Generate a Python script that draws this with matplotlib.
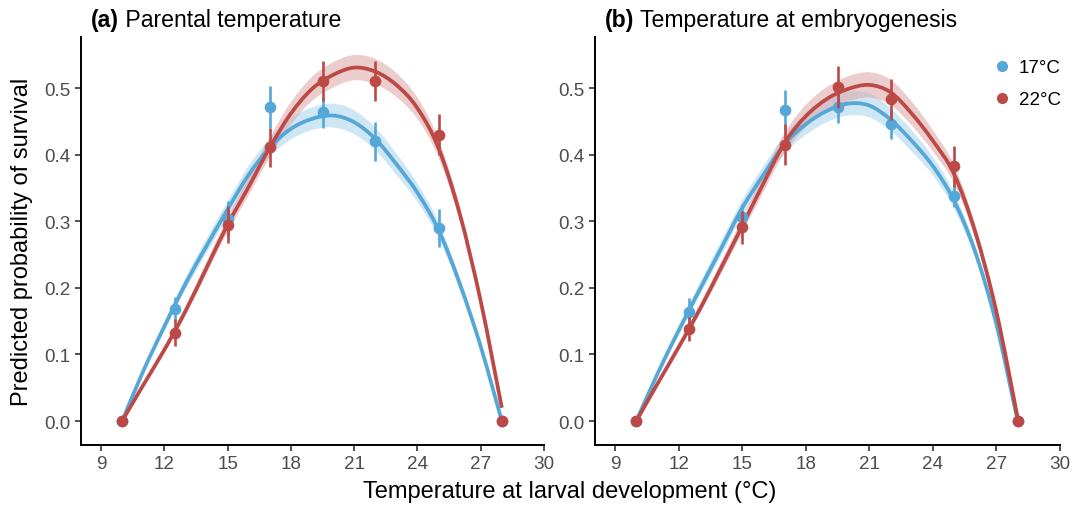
import numpy as np
import matplotlib
matplotlib.use("Agg")
import matplotlib.pyplot as plt
from matplotlib.path import Path
from matplotlib.patches import PathPatch
from matplotlib.lines import Line2D

# ---------------- data ----------------
temps_obs = [10, 12.5, 15, 17, 19.5, 22, 25, 28]

a_obs_17 = [0.0, 0.169, 0.303, 0.472, 0.464, 0.420, 0.290, 0.0]
a_err_17 = [0.0, 0.017, 0.027, 0.031, 0.023, 0.030, 0.028, 0.0]
a_obs_22 = [0.0, 0.133, 0.295, 0.411, 0.511, 0.511, 0.430, 0.0]
a_err_22 = [0.0, 0.020, 0.028, 0.029, 0.030, 0.030, 0.031, 0.0]

b_obs_17 = [0.0, 0.1635, 0.307, 0.467, 0.472, 0.446, 0.338, 0.0]
b_err_17 = [0.0, 0.021, 0.019, 0.030, 0.024, 0.023, 0.017, 0.0]
b_obs_22 = [0.0, 0.1385, 0.291, 0.415, 0.502, 0.4835, 0.3825, 0.0]
b_err_22 = [0.0, 0.018, 0.025, 0.031, 0.032, 0.031, 0.031, 0.0]

temps_fit = [10, 11, 12, 13, 14, 15, 16, 17, 18, 19, 20, 21, 22, 23, 24, 25, 26, 27, 28]
a_fit_17 = [0.0, 0.075, 0.142, 0.206, 0.263, 0.318, 0.370, 0.411, 0.439, 0.454, 0.459,
            0.449, 0.424, 0.386, 0.343, 0.287, 0.207, 0.112, 0.0]
a_fit_22 = [0.0, 0.054, 0.107, 0.165, 0.230, 0.295, 0.352, 0.411, 0.462, 0.499, 0.520,
            0.531, 0.525, 0.505, 0.470, 0.410, 0.312, 0.180, 0.020]
b_fit_17 = [0.0, 0.071, 0.136, 0.198, 0.259, 0.320, 0.370, 0.416, 0.446, 0.466, 0.477,
            0.474, 0.453, 0.421, 0.383, 0.331, 0.254, 0.145, 0.0]
b_fit_22 = [0.0, 0.056, 0.111, 0.168, 0.230, 0.293, 0.357, 0.418, 0.458, 0.484, 0.499,
            0.505, 0.494, 0.462, 0.421, 0.371, 0.284, 0.164, 0.005]

se_17 = [0.0, 0.004, 0.007, 0.009, 0.011, 0.012, 0.013, 0.014, 0.016, 0.017, 0.018,
         0.018, 0.017, 0.016, 0.014, 0.012, 0.009, 0.006, 0.002]
se_22 = [0.0, 0.003, 0.005, 0.007, 0.009, 0.011, 0.013, 0.015, 0.017, 0.018, 0.019,
         0.019, 0.019, 0.018, 0.016, 0.014, 0.011, 0.007, 0.003]

x_ticks = [9, 12, 15, 18, 21, 24, 27, 30]
y_ticks = [0.0, 0.1, 0.2, 0.3, 0.4, 0.5]
groups = ["17°C", "22°C"]
panel_tags = ["(a)", "(b)"]
panel_titles = ["Parental temperature", "Temperature at embryogenesis"]

# ---------------- style ----------------
BLUE = "#55A7D8"
RED = "#BC4946"
BLUE_BAND = "#A9D4EC"
RED_BAND = "#DDA5A5"
plt.rcParams["font.family"] = ["Liberation Sans", "DejaVu Sans"]


def bezier_codes(xs, ys):
    """Smooth path through the knots (rendered by matplotlib's Path)."""
    p = np.column_stack([xs, ys]).astype(float)
    n = len(p)
    verts = [p[0]]
    codes = [Path.MOVETO]
    for i in range(n - 1):
        p0 = p[i - 1] if i > 0 else p[i]
        p1 = p[i]
        p2 = p[i + 1]
        p3 = p[i + 2] if i + 2 < n else p[i + 1]
        c1 = p1 + (p2 - p0) / 6.0
        c2 = p2 - (p3 - p1) / 6.0
        verts += [c1, c2, p2]
        codes += [Path.CURVE4] * 3
    return verts, codes


def smooth_line(ax, xs, ys, color, lw, z):
    v, c = bezier_codes(xs, ys)
    ax.add_patch(PathPatch(Path(v, c), facecolor="none", edgecolor=color, lw=lw,
                           zorder=z, capstyle="butt"))


def smooth_band(ax, xs, lo, hi, color, alpha, z):
    vu, cu = bezier_codes(xs, hi)
    vl, cl = bezier_codes(xs[::-1], lo[::-1])
    cl = [Path.LINETO] + cl[1:]
    verts = vu + vl + [vu[0]]
    codes = cu + cl + [Path.CLOSEPOLY]
    ax.add_patch(PathPatch(Path(verts, codes), facecolor=color, edgecolor="none",
                           alpha=alpha, zorder=z))


W, H = 1072, 506
fig = plt.figure(figsize=(W / 100, H / 100), dpi=100)
ax_a = fig.add_axes([81 / W, 60 / H, 463 / W, 408 / H])
ax_b = fig.add_axes([595 / W, 60 / H, 465 / W, 408 / H])

panels = [
    (ax_a, a_fit_17, a_fit_22, a_obs_17, a_err_17, a_obs_22, a_err_22),
    (ax_b, b_fit_17, b_fit_22, b_obs_17, b_err_17, b_obs_22, b_err_22),
]

tf = np.array(temps_fit, dtype=float)
for k, (ax, f17, f22, o17, e17, o22, e22) in enumerate(panels):
    f17 = np.array(f17); f22 = np.array(f22)
    s17 = np.array(se_17); s22 = np.array(se_22)
    smooth_band(ax, tf, f17 - s17, f17 + s17, BLUE_BAND, 0.55, 1)
    smooth_band(ax, tf, f22 - s22, f22 + s22, RED_BAND, 0.55, 1)
    smooth_line(ax, tf, f17, BLUE, 2.7, 2)
    smooth_line(ax, tf, f22, RED, 2.7, 2)
    for obs, err, col, z in [(o17, e17, BLUE, 3), (o22, e22, RED, 4)]:
        ax.errorbar(temps_obs, obs, yerr=err, fmt="o", color=col, ms=8.4,
                    elinewidth=1.9, capsize=0, zorder=z, mew=0)

    ax.set_xlim(8.05, 30.0)
    ax.set_ylim(-0.036, 0.577)
    ax.set_xticks(x_ticks)
    ax.set_yticks(y_ticks)
    ax.set_yticklabels([f"{v:.1f}" for v in y_ticks])
    for side in ["top", "right"]:
        ax.spines[side].set_visible(False)
    for side in ["left", "bottom"]:
        ax.spines[side].set_linewidth(1.4)
        ax.spines[side].set_color("black")
    ax.tick_params(axis="both", length=4.5, width=1.2, color="#333333",
                   labelsize=13.6, labelcolor="#4D4D4D", pad=3)

    t1 = ax.text(0.0 + 10 / 463, 1.0 + 11 / 408, panel_tags[k], transform=ax.transAxes,
                 fontsize=16.6, fontweight="bold", ha="left", va="baseline", color="black")
    ax.annotate(" " + panel_titles[k], xy=(1, 0), xycoords=t1, ha="left", va="bottom",
                fontsize=16.6, color="black")

handles = [Line2D([], [], marker="o", ls="none", color=BLUE, ms=8, mew=0),
           Line2D([], [], marker="o", ls="none", color=RED, ms=8, mew=0)]
ax_b.legend(handles, groups, loc="upper right", bbox_to_anchor=(1.01, 0.955),
            frameon=False, fontsize=13.5, handlelength=0.8, handletextpad=0.5,
            labelspacing=0.8, borderaxespad=0.0, borderpad=0.2)

fig.text(22 / W, 1 - 242 / H, "Predicted probability of survival", rotation=90,
         ha="center", va="center", fontsize=17)
fig.text(570 / W, 1 - 492 / H, "Temperature at larval development (°C)",
         ha="center", va="center", fontsize=17)

fig.savefig("out.png", dpi=100)
